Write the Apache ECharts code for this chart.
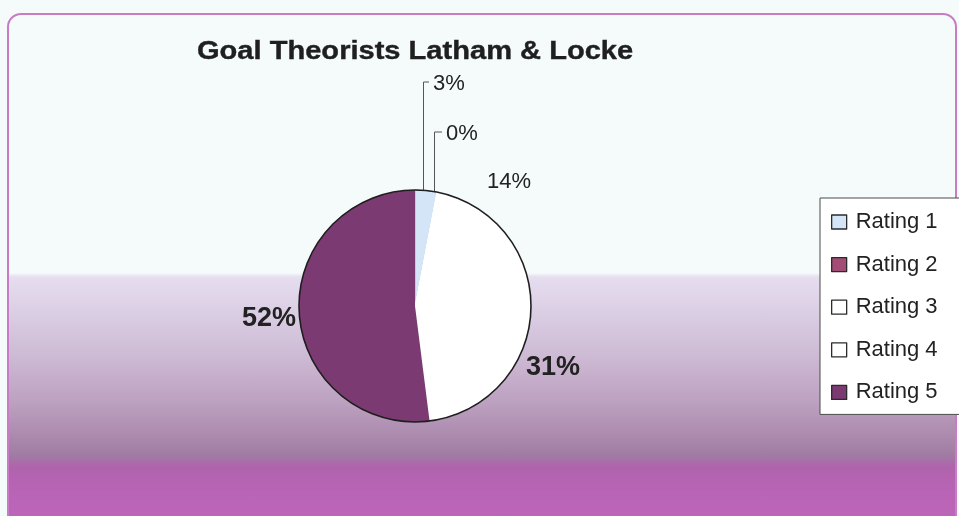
<!DOCTYPE html>
<html>
<head>
<meta charset="utf-8">
<title>Goal Theorists Latham &amp; Locke</title>
<script src="https://cdn.jsdelivr.net/npm/echarts@6/dist/echarts.min.js"></script>
<style>
  html, body { margin: 0; padding: 0; background: #f5fafb; }
  #wrap { position: relative; width: 959px; height: 516px; overflow: hidden; }
  /* rounded panel with the graded purple floor */
  #panel {
    position: absolute; left: 7px; top: 13px; width: 946px; height: 520px;
    border: 2.5px solid #c97bc5; border-radius: 14px;
    background: linear-gradient(to bottom,
      #f5fafb 0px, #f5fafb 258px,
      #e6ddef 262px, #dacde3 300px, #ccb8d3 345px,
      #bb9fbf 390px, #a987ab 425px, #a07aa3 441px,
      #b063ad 452px, #ba64b7 480px, #bd66ba 100%);
  }
  #chart { position: absolute; left: 0; top: 0; width: 959px; height: 516px; }
</style>
</head>
<body>
<div id="wrap">
  <div id="panel"></div>
  <div id="chart"></div>
</div>
<script>
// Ratings and their share of responses (percent)
var categories = ['Rating 1', 'Rating 2', 'Rating 3', 'Rating 4', 'Rating 5'];
var shares = [3, 0, 14, 31, 52];

// Slice and legend colours, one per rating
var palette = ['#d3e5f6', '#a24c76', '#ffffff', '#ffffff', '#7b3a72'];

// Pie geometry
var PIE_CENTER = [415, 306];
var PIE_RADIUS = 116;

// Where each percentage label sits; 'lead' labels get a bent leader line
var labelSpots = [
  { x: 433, y: 84,  align: 'left',  lead: true,  size: 22, weight: 'normal' },
  { x: 446, y: 134, align: 'left',  lead: true,  size: 22, weight: 'normal' },
  { x: 487, y: 182, align: 'left',  lead: false, size: 22, weight: 'normal' },
  { x: 526, y: 368, align: 'left',  lead: false, size: 27, weight: 'bold' },
  { x: 296, y: 319, align: 'right', lead: false, size: 27, weight: 'bold' }
];

var FONT = '"Liberation Sans", Arial, Helvetica, sans-serif';

function sliceStyle(i) {
  if (i === 0) return { color: palette[i], borderColor: '#98b8df', borderWidth: 1 };
  // white slices share an edge, so give them a matching border to hide the seam
  if (palette[i] === '#ffffff') return { color: palette[i], borderColor: '#ffffff', borderWidth: 1 };
  return { color: palette[i], borderWidth: 0 };
}

var sliceData = categories.map(function (name, i) {
  var spot = labelSpots[i];
  return {
    name: name,
    value: shares[i],
    itemStyle: sliceStyle(i),
    label: { fontSize: spot.size, fontWeight: spot.weight },
    labelLine: { show: spot.lead }
  };
});

var chart = echarts.init(document.getElementById('chart'), null, { renderer: 'canvas' });

chart.setOption({
  backgroundColor: 'transparent',
  animation: false,
  graphic: [{
    type: 'text',
    x: 197, y: 39,
    scaleX: 1.14,
    silent: true,
    style: {
      text: 'Goal Theorists Latham & Locke',
      font: 'bold 25.5px ' + FONT,
      fill: '#1f1f1f',
      stroke: '#1f1f1f',
      lineWidth: 0.4,
      textAlign: 'left',
      textVerticalAlign: 'top'
    }
  }],
  legend: {
    orient: 'vertical',
    left: 820, top: 198,
    data: categories,
    icon: 'rect',
    itemWidth: 15, itemHeight: 14,
    itemGap: 20.6,
    padding: [13, 40, 11, 11],
    backgroundColor: '#ffffff',
    borderColor: '#4a4a4a', borderWidth: 1,
    borderRadius: 0,
    selectedMode: false,
    itemStyle: { borderColor: '#2b2b2b', borderWidth: 1.3 },
    textStyle: {
      fontFamily: FONT, fontSize: 22, color: '#222222',
      lineHeight: 21, padding: [0, 0, 0, 4]
    }
  },
  series: [{
    name: 'Ratings',
    type: 'pie',
    center: PIE_CENTER,
    radius: PIE_RADIUS,
    startAngle: 90,
    clockwise: true,
    avoidLabelOverlap: false,
    silent: true,
    data: sliceData,
    label: {
      show: true,
      position: 'outside',
      fontFamily: FONT,
      color: '#222222',
      formatter: function (p) { return p.value + '%'; }
    },
    labelLine: {
      show: false,
      length: 20, length2: 6,
      lineStyle: { color: '#555555', width: 1 }
    },
    labelLayout: function (params) {
      var spot = labelSpots[params.dataIndex];
      var out = { x: spot.x, y: spot.y, align: spot.align, verticalAlign: 'middle' };
      if (spot.lead) {
        var pts = params.labelLinePoints;
        var ex, ey;
        if (pts && pts.length) {
          ex = pts[0][0]; ey = pts[0][1];
        } else {
          ex = PIE_CENTER[0]; ey = PIE_CENTER[1] - PIE_RADIUS;
        }
        ex = Math.round(ex) - 2.5;
        out.labelLinePoints = [[ex, ey], [ex, spot.y - 2], [spot.x - 4, spot.y - 2]];
      }
      return out;
    },
    emphasis: { disabled: true },
    z: 2
  }, {
    // outline ring around the whole pie
    name: 'outline',
    type: 'pie',
    center: PIE_CENTER,
    radius: PIE_RADIUS,
    silent: true,
    data: [{ name: '', value: 1 }],
    itemStyle: { color: 'rgba(0,0,0,0)', borderColor: '#1e1e1e', borderWidth: 1.6 },
    label: { show: false },
    labelLine: { show: false },
    emphasis: { disabled: true },
    z: 3
  }]
});
</script>
</body>
</html>
